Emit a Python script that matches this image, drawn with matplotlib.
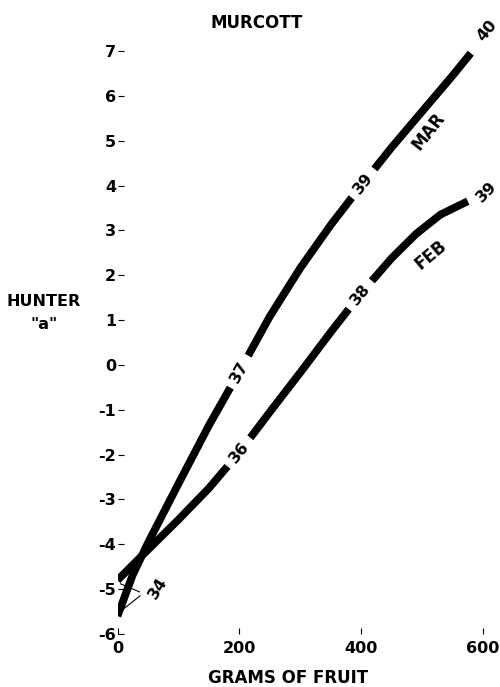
import numpy as np
import matplotlib.pyplot as plt

plt.rcParams['font.family'] = ['DejaVu Sans']
plt.rcParams['font.weight'] = 'bold'

# data
mar_x = [0, 25, 50, 100, 150, 200, 250, 300, 350, 400, 450, 500, 550, 580]
mar_y = [-5.6, -4.68, -3.97, -2.65, -1.35, -0.15, 1.08, 2.16, 3.12, 4.0, 4.85, 5.65, 6.45, 6.95]
feb_x = [0, 50, 100, 150, 200, 250, 300, 350, 400, 450, 490, 530, 575]
feb_y = [-4.8, -4.12, -3.45, -2.75, -1.95, -1.05, -0.17, 0.73, 1.6, 2.38, 2.92, 3.35, 3.65]

# numbers written on the curves (x position, label)
mar_marks = [(200, "37"), (403, "39")]
feb_marks = [(200, "36"), (398, "38")]

yticks = list(range(-6, 8))
xticks = [0, 200, 400, 600]

fig = plt.figure(figsize=(5, 6.87), dpi=100)
ax = fig.add_axes([0.235, 0.0771, 0.731, 0.8487])

ax.plot(mar_x, mar_y, color="black", lw=5.6, solid_capstyle="butt",
        solid_joinstyle="round", zorder=2)
ax.plot(feb_x, feb_y, color="black", lw=5.6, solid_capstyle="butt",
        solid_joinstyle="round", zorder=2)

ax.set_xlim(0, 600)
ax.set_ylim(-6, 7)
for s in ax.spines.values():
    s.set_visible(False)

ax.set_yticks(yticks)
ax.set_yticklabels([str(v) for v in yticks], fontsize=11.5, fontweight="bold")
ax.set_xticks(xticks)
ax.set_xticklabels([str(v) for v in xticks], fontsize=11.5, fontweight="bold")
ax.tick_params(axis="y", direction="in", length=4, width=0.8, pad=1)
ax.tick_params(axis="x", direction="in", length=4, width=0.8, pad=5)

fig.canvas.draw()


def angle_at(xs, ys, x0):
    # screen angle of the curve at x0
    p1 = ax.transData.transform((x0 - 10, np.interp(x0 - 10, xs, ys)))
    p2 = ax.transData.transform((x0 + 10, np.interp(x0 + 10, xs, ys)))
    return np.degrees(np.arctan2(p2[1] - p1[1], p2[0] - p1[0]))


for xs, ys, marks in [(mar_x, mar_y, mar_marks), (feb_x, feb_y, feb_marks)]:
    for x0, lab in marks:
        ax.text(x0, np.interp(x0, xs, ys), lab, fontsize=11.5, fontweight="bold",
                rotation=angle_at(xs, ys, x0), rotation_mode="anchor",
                ha="center", va="center", zorder=3,
                bbox=dict(boxstyle="square,pad=0.45", fc="white", ec="none"))

# end labels and month names
ax.text(606, 7.45, "40", fontsize=11.5, rotation=50, ha="center", va="center")
ax.text(606, 3.85, "39", fontsize=11.5, rotation=45, ha="center", va="center")
ax.text(511, 5.2, "MAR", fontsize=12, rotation=52, ha="center", va="center")
ax.text(514, 2.45, "FEB", fontsize=12, rotation=40, ha="center", va="center")

# starting value and its leader lines
ax.text(67, -4.97, "34", fontsize=11.5, rotation=58, ha="center", va="center")
ax.plot([37, 8], [-5.15, -5.46], color="black", lw=0.8, zorder=1)
ax.plot([36, 5], [-5.06, -4.88], color="black", lw=0.8, zorder=1)

fig.text(0.514, 0.967, "MURCOTT", fontsize=12, fontweight="bold", ha="center", va="center")
fig.text(0.088, 0.561, "HUNTER", fontsize=11.5, fontweight="bold", ha="center", va="center")
fig.text(0.088, 0.527, "\"a\"", fontsize=11.5, fontweight="bold", ha="center", va="center")
fig.text(0.576, 0.013, "GRAMS OF FRUIT", fontsize=12, fontweight="bold", ha="center", va="center")

fig.savefig("out.png", dpi=100)
